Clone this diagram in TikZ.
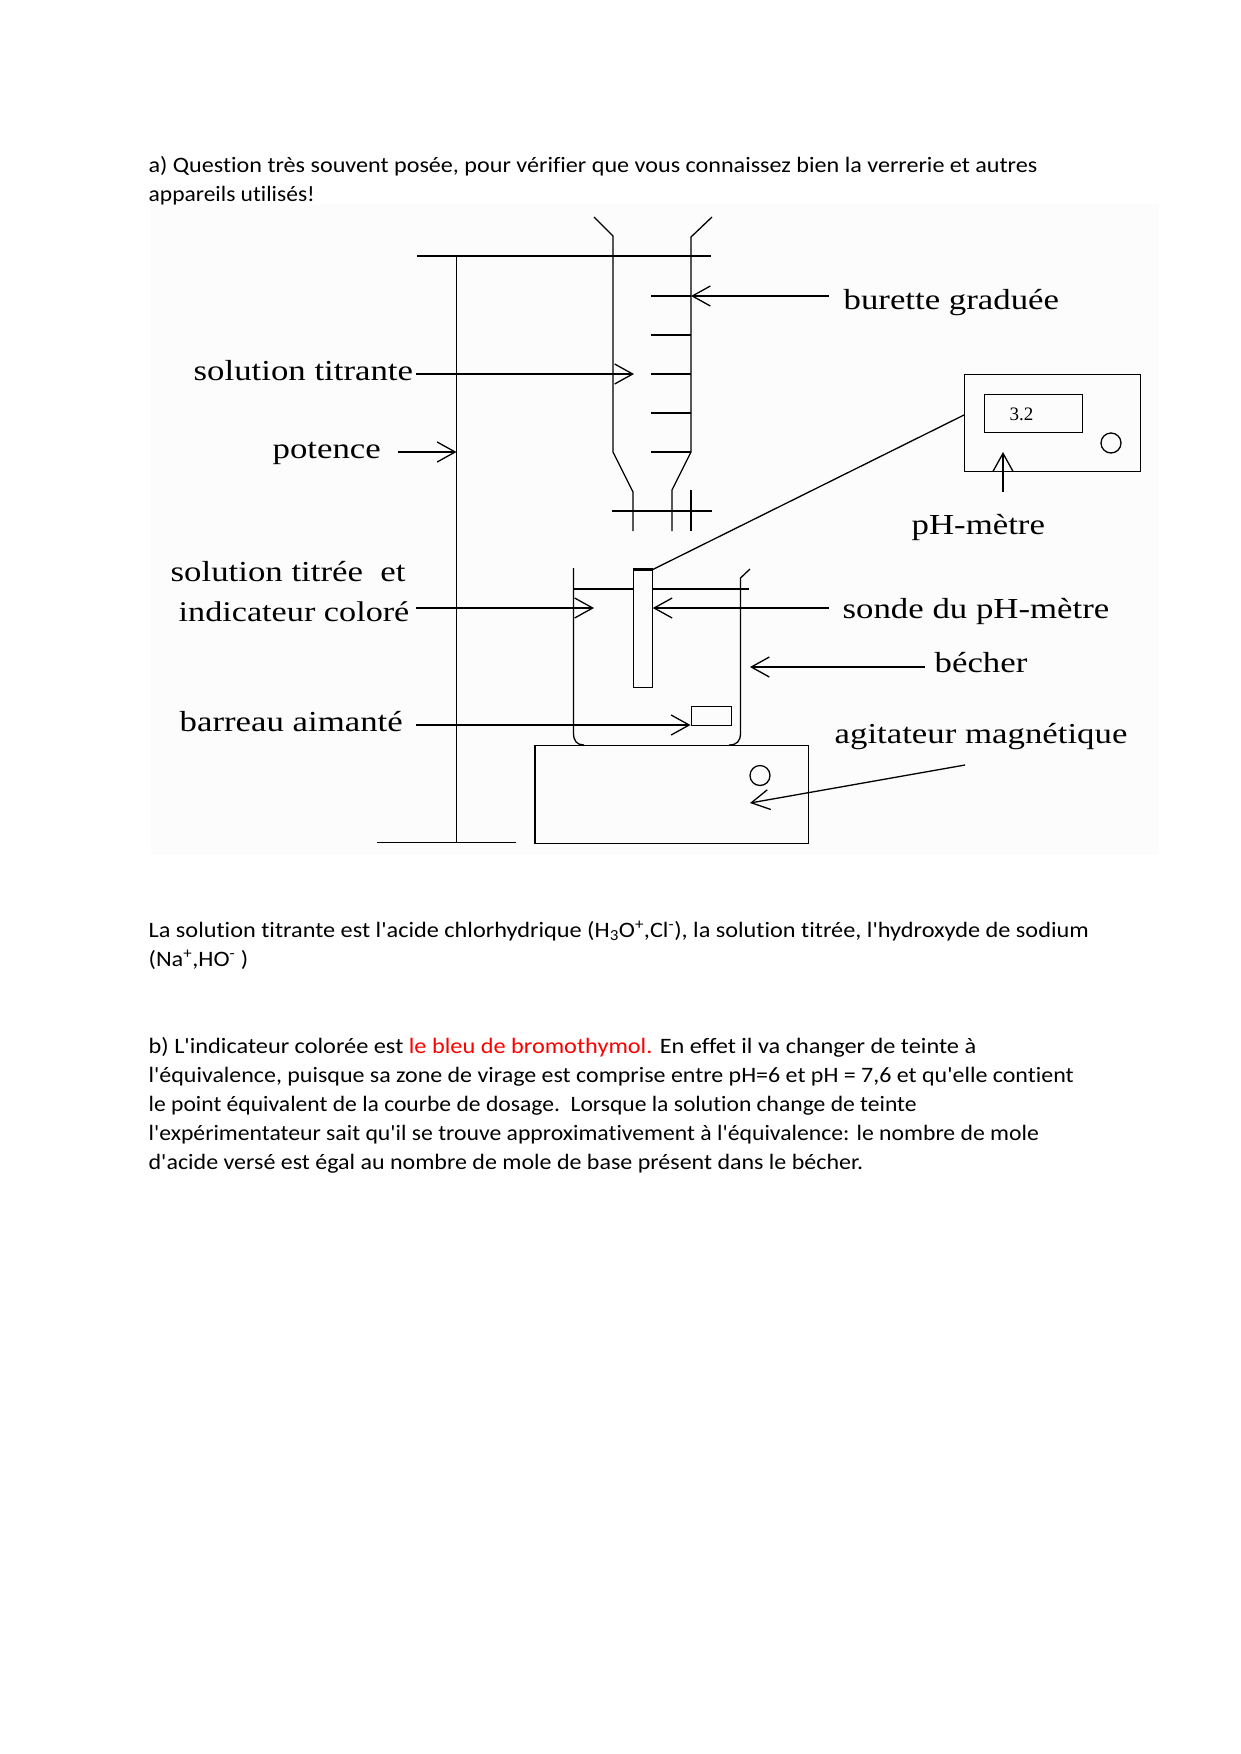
\documentclass[tikz,border=0pt]{standalone}
\usepackage{fontspec}
\setmainfont{Carlito}[Ligatures={TeXOff,CommonOff}]
\newfontfamily\etiquette[FakeStretch=1.2]{Liberation Serif}
\newfontfamily\ecran{Liberation Serif}
\usetikzlibrary{arrows.meta}

\begin{document}
\begin{tikzpicture}[x=1pt, y=-1pt, >={Straight Barb[length=18pt, width=20pt]}, line width=1.3pt]
  % Define styles
  \tikzset{texte/.style={anchor=base west, inner sep=0pt, font=\fontsize{22}{26}\selectfont\addfontfeature{FakeStretch=#1}}}
  \tikzstyle{label} = [anchor=base west, inner sep=0pt, font=\etiquette\fontsize{29}{33}\selectfont]
  \tikzstyle{boite} = [rectangle, draw=black, fill=fondimg, inner sep=0pt, anchor=north west]
  \tikzstyle{bouton} = [circle, draw=black, inner sep=0pt, minimum size=20pt]
  \definecolor{fondimg}{HTML}{FCFCFC}

  \useasboundingbox (0,0) rectangle (1240,1754);
  \fill[fondimg] (151,204) rectangle (1159,855);

  % Text
  \node[texte=1.097] (qa1) at (148,172) {a) Question très souvent posée, pour vérifier que vous connaissez bien la verrerie et autres};
  \node[texte=1.069] (qa2) at (148,201) {appareils utilisés!};
  \node[texte=1.104] (rep1) at (148,937) {La solution titrante est l'acide chlorhydrique (H\textsubscript{3}O\textsuperscript{+},Cl\textsuperscript{-}), la solution titrée, l'hydroxyde de sodium};
  \node[texte=1.105] (rep2) at (148,966) {(Na\textsuperscript{+},HO\textsuperscript{-} )};
  \node[texte=1.105] (qb1) at (148,1053) {b) L'indicateur colorée est \textcolor{red}{le bleu de bromothymol.} En effet il va changer de teinte à};
  \node[texte=1.089] (qb2) at (148,1082) {l'équivalence, puisque sa zone de virage est comprise entre pH=6 et pH = 7,6 et qu'elle contient};
  \node[texte=1.072] (qb3) at (148,1111) {le point équivalent de la courbe de dosage.\ \ Lorsque la solution change de teinte};
  \node[texte=1.077] (qb4) at (148,1140) {l'expérimentateur sait qu'il se trouve approximativement à l'équivalence: le nombre de mole};
  \node[texte=1.09] (qb5) at (148,1169) {d'acide versé est égal au nombre de mole de base présent dans le bécher.};

  % Potence
  \draw (417,256) -- (711,256);
  \draw (456.5,256) -- (456.5,842.5);
  \draw (377,842.5) -- (516,842.5);

  % Burette
  \draw (594,217) -- (613,236) -- (613,452) -- (633,492) -- (633,531);
  \draw (712,217) -- (691,237) -- (691,452) -- (672,490) -- (672,531);
  \draw (691,490) -- (691,531);
  \draw (612,511) -- (712,511);
  \foreach \y in {296,335,374,413,452}
    \draw (651,\y) -- (691,\y);

  % Becher
  \draw (573.5,568) -- (573.5,733) .. controls (573.5,741) and (577,745) .. (584,745);
  \draw (750,569) -- (740.5,578) -- (740.5,733) .. controls (740.5,741) and (737,745) .. (729,745);
  \draw (573.5,589) -- (749,589);

  % Nodes
  \node[boite, minimum width=19pt, minimum height=117pt] (sonde) at (632.5,569.5) {};
  \node[boite, minimum width=40pt, minimum height=19pt] (barreau) at (690.5,706) {};
  \node[boite, minimum width=273pt, minimum height=97.5pt] (agitateur) at (535,745) {};
  \node[bouton] (boutonag) at (760,775.5) {};
  \node[boite, minimum width=176pt, minimum height=97pt] (phmetre) at (964,374) {};
  \node[boite, minimum width=98pt, minimum height=38pt] (ecran) at (984,394) {};
  \node[font=\ecran\fontsize{19}{22}\selectfont, inner sep=0pt] (valeur) at (1021.5,414.5) {3.2};
  \node[bouton] (boutonph) at (1111,443) {};

  \node[label] (titrante) at (193,380) {solution titrante};
  \node[label] (potence) at (272,458) {potence};
  \node[label] (titree) at (170,581) {solution titrée\ \ et};
  \node[label, font=\etiquette\fontsize{28.5}{33}\selectfont] (indicateur) at (178,621) {indicateur coloré};
  \node[label] (aimant) at (179,731) {barreau aimanté};
  \node[label] (burette) at (843,309) {burette graduée};
  \node[label] (nomph) at (911,534) {pH-mètre};
  \node[label] (nomsonde) at (842,618) {sonde du pH-mètre};
  \node[label] (nombecher) at (934,672) {bécher};
  \node[label] (nomagit) at (834,743) {agitateur magnétique};

  % Free ends of the arrows
  \coordinate (dtitrante) at (416,374);
  \coordinate (ftitrante) at (634,374);
  \coordinate (dpotence) at (398,452);
  \coordinate (fpotence) at (456.5,452);
  \coordinate (dburette) at (829,296);
  \coordinate (fburette) at (691,296);
  \coordinate (dtitree) at (416,608);
  \coordinate (ftitree) at (594,608);
  \coordinate (dsonde) at (829,608);
  \coordinate (dbecher) at (925,667);
  \coordinate (fbecher) at (750,667);
  \coordinate (daimant) at (416,725);
  \coordinate (dagit) at (965,765);
  \coordinate (fagit) at (750,803);
  \coordinate (dph) at (1003,492);
  \coordinate (fph) at (1003,452);
  \coordinate (cable) at (964,415);

  % Arrows
  \draw[->] (dtitrante) -- (ftitrante);
  \draw[->] (dpotence) -- (fpotence);
  \draw[->] (dburette) -- (fburette);
  \draw[->] (dtitree) -- (ftitree);
  \draw[->] (dsonde) -- (dsonde -| sonde.east);
  \draw[->] (dbecher) -- (fbecher);
  \draw[->] (daimant) -- (daimant -| barreau.west);
  \draw[->] (dagit) -- (fagit);
  \draw[->] (dph) -- (fph);

  % Cable
  \draw (sonde.north east) -- (cable);
  \draw[line width=2.4pt] (sonde.north west) -- (sonde.north east);
  \draw[line width=2.2pt] (agitateur.north west) -- (agitateur.south west);
\end{tikzpicture}
\end{document}
